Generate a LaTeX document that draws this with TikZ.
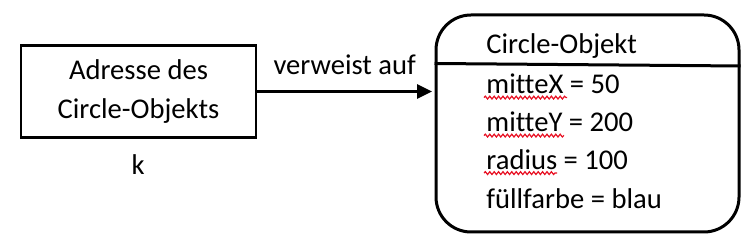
\documentclass[tikz,border=0pt]{standalone}
\usepackage{fontspec}
\setmainfont{Carlito}[Ligatures=NoCommon]
\usepackage{tikz}
\usetikzlibrary{arrows.meta,positioning,decorations.pathmorphing}
\definecolor{ink}{HTML}{000000}
\definecolor{spell}{HTML}{E81123}

\begin{document}
\begin{tikzpicture}[x=0.5pt,y=-0.5pt,every node/.style={font=\fontsize{14.3}{19.5}\selectfont,text=ink},addr/.style={draw=ink,line width=1.4pt,align=center,minimum width=117.5pt,minimum height=46pt},objbox/.style={draw=ink,line width=1.5pt,rounded corners=17.5pt,minimum width=151.5pt,minimum height=108.5pt},field/.style={anchor=base west,inner sep=0pt},arr/.style={-{Triangle[length=7.5pt,width=7pt]},line width=1.5pt,draw=ink},wavy/.style={draw=spell,line width=0.6pt,decorate,decoration={snake,segment length=2.2pt,amplitude=0.7pt}}]
\useasboundingbox (0,0) rectangle (753,244);
\node[addr] (adr) at (138.5,91.5) {Adresse des\\Circle-Objekts};
\node[anchor=base] (k) at (138,175) {k};
\node[objbox] (circ) at (587.5,123.5) {};
\coordinate (tip) at (432,91.5);
\draw[arr] (adr.east) -- (tip) node[midway,above=7.5pt,inner sep=0pt] (lbl) {verweist auf};
\draw[draw=ink,line width=1.5pt] (circ.west |- 0,63.5) -- (circ.east |- 0,66);
% Felder des Objekts
\node[field] (head) at (486,54) {Circle-Objekt};
\node[field] (mx) at (486,94) {mitteX = 50};
\node[field] (my) at (486,132) {mitteY = 200};
\node[field] (rad) at (486,169.5) {radius = 100};
\node[field] (ff) at (486,209) {füllfarbe = blau};
% Rechtschreib-Wellen
\draw[wavy] ([xshift=-1pt,yshift=-1.8pt]mx.base west) -- ++(83,0);
\draw[wavy] ([xshift=-1pt,yshift=-1.8pt]my.base west) -- ++(80,0);
\draw[wavy] ([xshift=-1pt,yshift=-1.8pt]rad.base west) -- ++(73,0);
\end{tikzpicture}
\end{document}
